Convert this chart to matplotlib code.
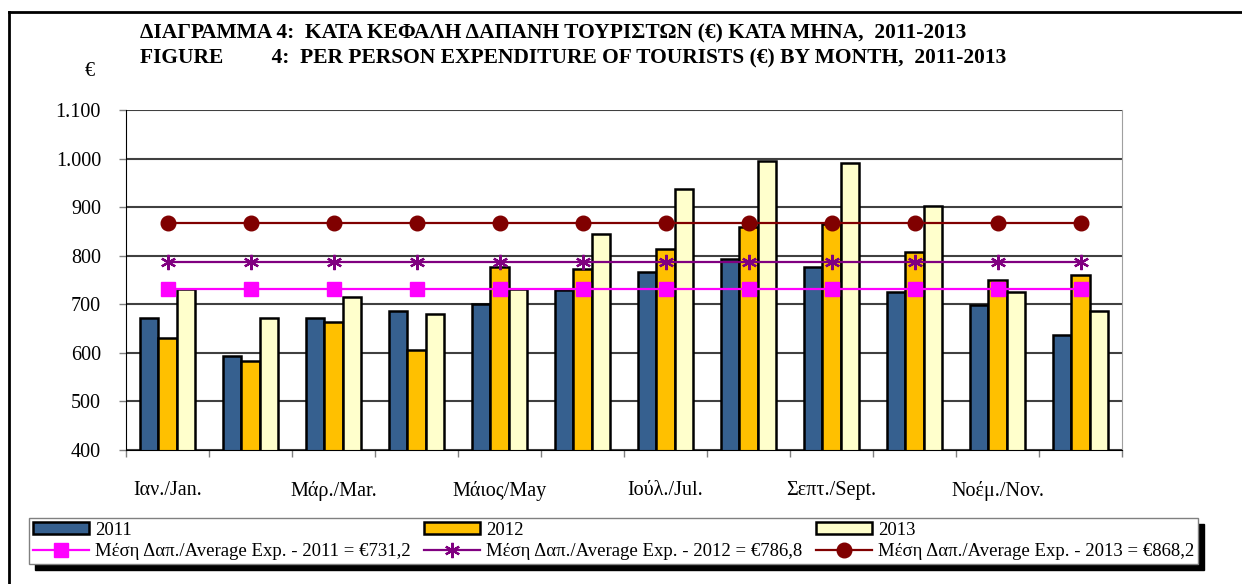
import numpy as np
import matplotlib
matplotlib.use('Agg')
import matplotlib.pyplot as plt
from matplotlib.lines import Line2D
from matplotlib.patches import Rectangle
from matplotlib.ticker import FuncFormatter

# data
months = ['Ιαν./Jan.', 'Φεβ./Feb.', 'Μάρ./Mar.', 'Απρ./Apr.', 'Μάιος/May', 'Ιούν./Jun.',
          'Ιούλ./Jul.', 'Αύγ./Aug.', 'Σεπτ./Sept.', 'Οκτ./Oct.', 'Νοέμ./Nov.', 'Δεκ./Dec.']
exp_2011 = [671, 593, 672, 686, 700, 730, 766, 794, 776, 726, 698, 637]
exp_2012 = [630, 584, 664, 606, 776, 772, 813, 860, 865, 808, 749, 760]
exp_2013 = [731, 671, 714, 681, 732, 845, 938, 995, 990, 903, 726, 687]
avg_2011 = 731.2
avg_2012 = 786.8
avg_2013 = 868.2

plt.rcParams['font.family'] = ['Liberation Serif', 'DejaVu Serif']

W, H = 1242, 584
fig = plt.figure(figsize=(W/100, H/100), dpi=100)
ax = fig.add_axes([126/W, 1-450/H, 996/W, 340/H])

x = np.arange(len(months))
bw = 0.222
ax.bar(x-bw, exp_2011, bw, color='#36608f', edgecolor='black', lw=1.8, label='2011', zorder=2)
ax.bar(x, exp_2012, bw, color='#ffc000', edgecolor='black', lw=1.8, label='2012', zorder=2)
ax.bar(x+bw, exp_2013, bw, color='#ffffcc', edgecolor='black', lw=1.8, label='2013', zorder=2)

ax.plot(x, [avg_2011]*len(x), color='#ff00ff', lw=1.6, marker='s', ms=10, zorder=3,
        label='Μέση Δαπ./Average Exp. - 2011 = €731,2')
ax.plot(x, [avg_2012]*len(x), color='#800080', lw=1.6, marker=(6, 2, 0), ms=11, mew=1.6, zorder=3,
        label='Μέση Δαπ./Average Exp. - 2012 = €786,8')
ax.plot(x, [avg_2013]*len(x), color='#800000', lw=1.6, marker='o', ms=10.5, zorder=3,
        label='Μέση Δαπ./Average Exp. - 2013 = €868,2')

ax.set_xlim(-0.5, len(months)-0.5)
ax.set_ylim(400, 1100)
ax.set_yticks(range(400, 1101, 100))
ax.yaxis.set_major_formatter(FuncFormatter(lambda v, p: f'{int(v):,}'.replace(',', '.')))
ax.grid(axis='y', color='#404040', lw=1.5, zorder=0)
ax.set_axisbelow(True)

ax.set_xticks(x[::2])
ax.set_xticklabels(months[::2])
ax.set_xticks(np.arange(-0.5, len(months)), minor=True)
ax.tick_params(axis='x', which='major', length=0, pad=22, labelsize=14.5)
ax.tick_params(axis='x', which='minor', length=5, width=1, color='#808080', direction='out')
ax.tick_params(axis='y', length=5, width=1, color='#808080', pad=13, labelsize=14.5)

ax.spines['top'].set_visible(False)
ax.spines['right'].set_color('#a0a0a0')
ax.spines['left'].set_color('black')
ax.spines['bottom'].set_color('black')

fig.text(90/W, 1-72/H, '€', fontsize=14.5, ha='center', va='center')
fig.text(140/W, 1-33/H, 'ΔΙΑΓΡΑΜΜΑ 4:  ΚΑΤΑ ΚΕΦΑΛΗ ΔΑΠΑΝΗ ΤΟΥΡΙΣΤΩΝ (€) ΚΑΤΑ ΜΗΝΑ,  2011-2013',
         fontsize=15.5, fontweight='bold', ha='left', va='center')
fig.text(140/W, 1-58/H, 'FIGURE         4:  PER PERSON EXPENDITURE OF TOURISTS (€) BY MONTH,  2011-2013',
         fontsize=15.5, fontweight='bold', ha='left', va='center')

# outer frame (left and top edges visible in the reference)
fig.add_artist(Line2D([9/W, 9/W], [0, 1-12/H], color='black', lw=2, transform=fig.transFigure))
fig.add_artist(Line2D([9/W, 1], [1-12/H, 1-12/H], color='black', lw=2, transform=fig.transFigure))

# legend: bars on the first row, average lines on the second
h0, l0 = ax.get_legend_handles_labels()
bars = [hh for hh in h0 if not isinstance(hh, Line2D)]
lines = [hh for hh in h0 if isinstance(hh, Line2D)]
hs = [bars[0], lines[0], bars[1], lines[1], bars[2], lines[2]]
ls = [hh.get_label() for hh in hs]
leg = fig.legend(hs, ls, ncol=3, mode='expand', loc='lower left',
                 bbox_to_anchor=(29/W, 1-564/H, (1198-29)/W, 47/H), borderaxespad=0,
                 fontsize=13.5, frameon=True, fancybox=False, framealpha=1, edgecolor='#808080',
                 handlelength=3.0, handleheight=0.6, handletextpad=0.3, labelspacing=0.25,
                 borderpad=0.2)
leg.get_frame().set_linewidth(1)

fig.canvas.draw()
bb = leg.get_window_extent()
fig.add_artist(Rectangle(((bb.x0+6)/W, (bb.y0-6)/H), bb.width/W, bb.height/H,
                         transform=fig.transFigure, color='black', zorder=4))

fig.savefig('out.png', dpi=100)
